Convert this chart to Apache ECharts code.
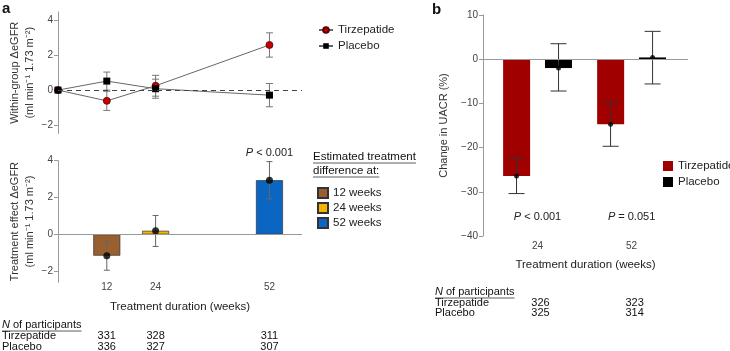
<!DOCTYPE html>
<html>
<head>
<meta charset="utf-8">
<script src="https://cdn.jsdelivr.net/npm/echarts@6/dist/echarts.min.js"></script>
<style>
html, body { margin: 0; padding: 0; background: #fff; }
#main { width: 730px; height: 351px; }
</style>
</head>
<body>
<div id="main"></div>
<script>
// ---- panel a, top: within-group change in eGFR ----
var weeksA = [0, 12, 24, 52];
var tirzWithin = [0, -0.62, 0.25, 2.6];
var tirzWithinErr = [0, 0.55, 0.6, 0.7];
var placWithin = [0, 0.52, 0.08, -0.29];
var placWithinErr = [0, 0.52, 0.55, 0.67];

// ---- panel a, bottom: estimated treatment difference ----
var diffWeeks = [12, 24, 52];
var diffNames = ['12 weeks', '24 weeks', '52 weeks'];
var diffColors = ['#9a5f2e', '#f5b400', '#0a66c2'];
var diffValues = [-1.15, 0.2, 2.94];
var diffLow = [-1.94, -0.65, 1.93];
var diffHigh = [-0.38, 1.03, 3.95];
var nTirzA = [331, 328, 311];
var nPlacA = [336, 327, 307];

// ---- panel b: change in UACR ----
var uacrCats = ['24', '52'];
var uacrTirz = [-26.4, -14.7];
var uacrTirzLow = [-30.4, -19.7];
var uacrTirzHigh = [-22.4, -9.7];
var uacrPlac = [-2.0, 0.4];
var uacrPlacLow = [-7.2, -5.6];
var uacrPlacHigh = [3.5, 6.3];
var uacrP = ['< 0.001', '= 0.051'];
var nTirzB = [326, 323];
var nPlacB = [325, 314];

var FONT = '"Liberation Sans", Arial, sans-serif';
var chart = echarts.init(document.getElementById('main'));

function minus(v) { return String(v).replace('-', '\u2212'); }

function errBars(halfCap, color, dx) {
	return function(params, api) {
		var x = api.value(0);
		var pLo = api.coord([x, api.value(1)]);
		var pHi = api.coord([x, api.value(2)]);
		var cx = pLo[0] + dx;
		var st = { stroke: color, lineWidth: 1 };
		return { type: 'group', children: [
			{ type: 'line', shape: { x1: cx, y1: pHi[1], x2: cx, y2: pLo[1] }, style: st },
			{ type: 'line', shape: { x1: cx - halfCap, y1: pHi[1], x2: cx + halfCap, y2: pHi[1] }, style: st },
			{ type: 'line', shape: { x1: cx - halfCap, y1: pLo[1], x2: cx + halfCap, y2: pLo[1] }, style: st }
		] };
	};
}

function pairs(xs, ys) { return xs.map(function(x, i) { return [x, ys[i]]; }); }

var tirzErrData = [], placErrData = [];
weeksA.forEach(function(w, i) {
	if (tirzWithinErr[i] > 0) tirzErrData.push([w, tirzWithin[i] - tirzWithinErr[i], tirzWithin[i] + tirzWithinErr[i]]);
	if (placWithinErr[i] > 0) placErrData.push([w, placWithin[i] - placWithinErr[i], placWithin[i] + placWithinErr[i]]);
});

var axisGray = '#9a9a9a';
function yAx(grid, min, max, ticks, name, gap) {
	return {
		gridIndex: grid, type: 'value', min: min, max: max,
		axisLine: { show: true, lineStyle: { color: axisGray } },
		axisTick: { show: true, length: 4, customValues: ticks, lineStyle: { color: axisGray } },
		axisLabel: { customValues: ticks, fontSize: 10, color: '#444', margin: 5, fontFamily: FONT, formatter: minus },
		splitLine: { show: false },
		name: name, nameLocation: 'middle', nameRotate: 90, nameGap: gap,
		nameTextStyle: { fontSize: 11, color: '#333', fontFamily: FONT, lineHeight: 15 }
	};
}

var series = [];
// top a
series.push({ type: 'custom', xAxisIndex: 0, yAxisIndex: 0, renderItem: errBars(3.5, '#777', 0), data: tirzErrData, z: 2 });
series.push({ type: 'custom', xAxisIndex: 0, yAxisIndex: 0, renderItem: errBars(3.5, '#777', 0), data: placErrData, z: 2 });
series.push({
	name: 'Tirzepatide', type: 'line', xAxisIndex: 0, yAxisIndex: 0, data: pairs(weeksA, tirzWithin),
	symbol: 'circle', symbolSize: 7, z: 4,
	itemStyle: { color: '#c40000', borderColor: '#5a0000', borderWidth: 0.8 },
	lineStyle: { color: '#666', width: 1 },
	markLine: { silent: true, symbol: 'none', label: { show: false }, lineStyle: { color: '#444', type: [5, 4], width: 1 }, data: [{ yAxis: 0 }] }
});
series.push({
	name: 'Placebo', type: 'line', xAxisIndex: 0, yAxisIndex: 0, data: pairs(weeksA, placWithin),
	symbol: 'rect', symbolSize: 7, z: 4,
	itemStyle: { color: '#000' }, lineStyle: { color: '#666', width: 1 }
});
// bottom a
diffWeeks.forEach(function(w, i) {
	series.push({
		name: diffNames[i], type: 'bar', xAxisIndex: 1, yAxisIndex: 1, barWidth: 27, barGap: '-100%',
		data: [[w, diffValues[i]]],
		itemStyle: { color: diffColors[i], borderColor: '#333', borderWidth: 0.7 },
		markLine: i === 0 ? { silent: true, symbol: 'none', label: { show: false }, lineStyle: { color: '#999', type: 'solid', width: 1 }, data: [{ yAxis: 0 }] } : undefined
	});
});
series.push({ type: 'custom', xAxisIndex: 1, yAxisIndex: 1, renderItem: errBars(3, '#666', 0), z: 3,
	data: diffWeeks.map(function(w, i) { return [w, diffLow[i], diffHigh[i]]; }) });
series.push({ type: 'scatter', xAxisIndex: 1, yAxisIndex: 1, symbolSize: 7, z: 4, itemStyle: { color: '#000' },
	data: pairs(diffWeeks, diffValues) });
// panel b
var catX = [1, 2];
series.push({
	name: 'TirzB', type: 'bar', xAxisIndex: 2, yAxisIndex: 2, barWidth: 27, barGap: '55%',
	data: pairs(catX, uacrTirz), itemStyle: { color: '#a00000' },
	markLine: { silent: true, symbol: 'none', label: { show: false }, lineStyle: { color: '#999', type: 'solid', width: 1 }, data: [{ yAxis: 0 }] }
});
series.push({
	name: 'PlacB', type: 'bar', xAxisIndex: 2, yAxisIndex: 2, barWidth: 27, barGap: '55%',
	data: pairs(catX, uacrPlac), itemStyle: { color: '#000' }
});
series.push({ type: 'custom', xAxisIndex: 2, yAxisIndex: 2, renderItem: errBars(8, '#333', -21), z: 3,
	data: catX.map(function(c, i) { return [c, uacrTirzLow[i], uacrTirzHigh[i]]; }) });
series.push({ type: 'custom', xAxisIndex: 2, yAxisIndex: 2, renderItem: errBars(8, '#333', 21), z: 3,
	data: catX.map(function(c, i) { return [c, uacrPlacLow[i], uacrPlacHigh[i]]; }) });
series.push({ type: 'scatter', xAxisIndex: 2, yAxisIndex: 2, symbolSize: 5, symbolOffset: [-21, 0], z: 4,
	itemStyle: { color: '#000' }, data: pairs(catX, uacrTirz) });
series.push({ type: 'scatter', xAxisIndex: 2, yAxisIndex: 2, symbolSize: 5, symbolOffset: [21, 0], z: 4,
	itemStyle: { color: '#000' }, data: pairs(catX, uacrPlac) });

var option = {
	animation: false,
	textStyle: { fontFamily: FONT },
	grid: [
		{ left: 58, top: 12, width: 244, height: 121.5 },
		{ left: 58, top: 160.7, width: 244, height: 121.7 },
		{ left: 483, top: 15, width: 205, height: 221 }
	],
	xAxis: [
		{ gridIndex: 0, type: 'value', min: 0, max: 60, show: false },
		{ gridIndex: 1, type: 'value', min: 0, max: 60,
			axisLine: { show: false }, axisTick: { show: false }, splitLine: { show: false },
			axisLabel: { customValues: diffWeeks, fontSize: 10, color: '#444', margin: 0 },
			name: 'Treatment duration (weeks)', nameLocation: 'middle', nameGap: 18,
			nameTextStyle: { fontSize: 11.5, color: '#222' } },
		{ gridIndex: 2, type: 'value', min: 0.42, max: 2.6,
			axisLine: { show: false }, axisTick: { show: false }, splitLine: { show: false },
			axisLabel: { customValues: catX, fontSize: 10, color: '#444', margin: 5,
				formatter: function(v) { return uacrCats[Math.round(v) - 1]; } },
			name: 'Treatment duration (weeks)', nameLocation: 'middle', nameGap: 23,
			nameTextStyle: { fontSize: 11.5, color: '#222' } }
	],
	yAxis: [
		yAx(0, -2.5, 4.5, [-2, 0, 2, 4], 'Within-group \u0394eGFR\n(ml min\u207B\u00B9 1.73 m\u207B\u00B2)', 21),
		yAx(1, -2.6, 4, [-2, 0, 2, 4], 'Treatment effect \u0394eGFR\n(ml min\u207B\u00B9 1.73 m\u207B\u00B2)', 21),
		yAx(2, -40, 10, [-40, -30, -20, -10, 0, 10], 'Change in UACR (%)', 32)
	],
	legend: [
		{ data: ['Tirzepatide', 'Placebo'], orient: 'vertical', left: 313, top: 19, itemWidth: 14, itemHeight: 7,
			itemGap: 4, textStyle: { fontSize: 11.5, color: '#222' }, selectedMode: false },
		{ data: diffNames, orient: 'vertical', left: 312, top: 182, itemWidth: 10, itemHeight: 10, icon: 'rect',
			itemGap: 3, textStyle: { fontSize: 11.5, color: '#222' }, selectedMode: false },
		{ data: ['TirzB', 'PlacB'], orient: 'vertical', left: 658, top: 155, itemWidth: 10, itemHeight: 10, icon: 'rect',
			itemGap: 4, textStyle: { fontSize: 11.5, color: '#222' }, selectedMode: false,
			formatter: function(n) { return n === 'TirzB' ? 'Tirzepatide' : 'Placebo'; } }
	],
	series: series
};
chart.setOption(option);

// ---- annotation texts and participant tables ----
var ctx = document.createElement('canvas').getContext('2d');
function textW(s, size) { ctx.font = size + 'px ' + FONT; return ctx.measureText(s).width; }
function txt(x, y, s, opt) {
	opt = opt || {};
	return { type: 'text', x: x, y: y, silent: true, style: {
		text: s, fontSize: opt.size || 11, fontFamily: FONT, fontWeight: opt.weight || 'normal',
		fill: opt.color || '#111', align: opt.align || 'left', verticalAlign: 'middle',
		rich: { i: { fontStyle: 'italic', fontSize: opt.size || 11, fontFamily: FONT } }
	} };
}
function uline(x, y, w) {
	return { type: 'line', silent: true, shape: { x1: x, y1: y, x2: x + w, y2: y }, style: { stroke: '#333', lineWidth: 0.8 } };
}

var g = [];
g.push(txt(2, 9, 'a', { size: 15, weight: 'bold' }));
g.push(txt(432, 10, 'b', { size: 15, weight: 'bold' }));
// legend heading
g.push(txt(313, 157, 'Estimated treatment', { size: 11.5 }));
g.push(uline(313, 163, textW('Estimated treatment', 11.5)));
g.push(txt(313, 171, 'difference at:', { size: 11.5 }));
g.push(uline(313, 177, textW('difference at:', 11.5)));
// P values
var p52 = chart.convertToPixel({ xAxisIndex: 1, yAxisIndex: 1 }, [52, 4]);
g.push(txt(p52[0], 153, '{i|P} < 0.001', { align: 'center', color: '#222' }));
catX.forEach(function(c, i) {
	var px = chart.convertToPixel({ xAxisIndex: 2 }, c);
	g.push(txt(px, 217, '{i|P} ' + uacrP[i], { align: 'center', color: '#222' }));
});
// N tables
g.push(txt(2, 325, '{i|N} of participants'));
g.push(uline(2, 331, textW('N of participants', 11)));
g.push(txt(2, 336, 'Tirzepatide'));
g.push(txt(2, 347, 'Placebo'));
diffWeeks.forEach(function(w, i) {
	var px = chart.convertToPixel({ xAxisIndex: 1 }, w);
	g.push(txt(px, 336, String(nTirzA[i]), { align: 'center' }));
	g.push(txt(px, 347, String(nPlacA[i]), { align: 'center' }));
});
g.push(txt(435, 292, '{i|N} of participants'));
g.push(uline(435, 298, textW('N of participants', 11)));
g.push(txt(435, 303, 'Tirzepatide'));
g.push(txt(435, 313, 'Placebo'));
catX.forEach(function(c, i) {
	var px = chart.convertToPixel({ xAxisIndex: 2 }, c) + 3;
	g.push(txt(px, 303, String(nTirzB[i]), { align: 'center' }));
	g.push(txt(px, 313, String(nPlacB[i]), { align: 'center' }));
});
chart.setOption({ graphic: g });
</script>
</body>
</html>
